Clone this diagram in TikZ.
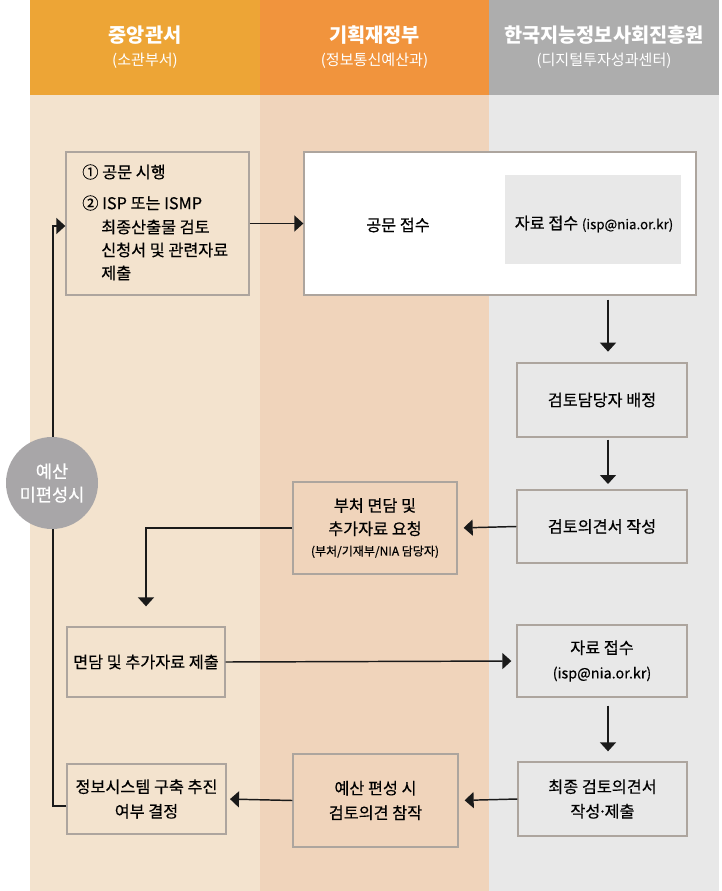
\documentclass[tikz,border=0pt]{standalone}
\usepackage{fontspec}
\setmainfont{Noto Sans CJK KR}
\newfontfamily\boxfont[FakeBold=0.4]{Noto Sans CJK KR}
\usetikzlibrary{arrows.meta}
\definecolor{hdA}{HTML}{EDA536}
\definecolor{hdB}{HTML}{F1943D}
\definecolor{hdC}{HTML}{ADADAD}
\definecolor{bgA}{HTML}{F3E3CE}
\definecolor{bgB}{HTML}{F0D4BB}
\definecolor{bgC}{HTML}{E8E8E8}
\definecolor{boxline}{HTML}{ADA59E}
\definecolor{circ}{HTML}{A8A6A8}
\definecolor{linec}{HTML}{1A1A1A}
\begin{document}
\begin{tikzpicture}[x=0.75pt,y=-0.75pt,
  box/.style={draw=boxline, line width=1pt, inner sep=0pt, align=center,
    font=\boxfont\fontsize{12.2}{18.5}\selectfont, text=black},
  txt/.style={inner sep=0pt, font=\boxfont\fontsize{12.2}{18}\selectfont, text=black},
  htitle/.style={inner sep=0pt, text=white, font=\fontsize{14.8}{17}\selectfont\bfseries},
  hsub/.style={inner sep=0pt, text=white, font=\fontsize{11.3}{13}\selectfont},
  arr/.style={draw=linec, line width=1.1pt, -{Triangle[length=6.75pt,width=12pt]}},
  plain/.style={draw=linec, line width=1.1pt}
]
\useasboundingbox (0,0) rectangle (721,891);
\fill[white] (0,0) rectangle (721,891);
% column backgrounds
\fill[bgA] (30,95) rectangle (260,891);
\fill[bgB] (260,95) rectangle (489,891);
\fill[bgC] (489,95) rectangle (719,891);
\fill[hdA] (30,0) rectangle (260,95);
\fill[hdB] (260,0) rectangle (489,95);
\fill[hdC] (489,0) rectangle (719,95);
% headers
\node[htitle] (h1) at (145,35) {중앙관서};
\node[hsub] (h1s) at (145,61) {(소관부서)};
\node[htitle] (h2) at (374.5,35) {기획재정부};
\node[hsub] (h2s) at (374.5,61) {(정보통신예산과)};
\node[htitle] (h3) at (604,35) {한국지능정보사회진흥원};
\node[hsub] (h3s) at (604,61) {(디지털투자성과센터)};

% coordinates for vertical arrows
\coordinate (vx) at (608,0);
\coordinate (fbBot) at (53,806);
\coordinate (fbTop) at (53,226);

% boxes
\node[box, fill=bgA, minimum width=137.25pt, minimum height=107.25pt] (A) at (157.5,223.5) {};
\node[txt, anchor=west] (a1) at (82,172) {① 공문 시행};
\node[txt, anchor=west] (a2) at (82,203) {② ISP 또는 ISMP};
\node[txt, anchor=west] (a3) at (101,227) {최종산출물 검토};
\node[txt, anchor=west] (a4) at (101,250) {신청서 및 관련자료};
\node[txt, anchor=west] (a5) at (101,273) {제출};

\node[box, fill=white, minimum width=294pt, minimum height=107.25pt] (W) at (500,223.5) {};
\node[txt] (w1) at (398,225) {공문 접수};
\node[fill=bgC, inner sep=0pt, minimum width=132pt, minimum height=66.75pt] (G) at (593,219.5) {};
\node[txt] (g1) at (594,224) {자료 접수 {\fontsize{10}{12}\selectfont(isp@nia.or.kr)}};

\node[box, fill=bgC, minimum width=127.5pt, minimum height=55.5pt] (R1) at (602,400) {검토담당자 배정};
\node[box, fill=bgC, minimum width=127.5pt, minimum height=54.75pt] (R2) at (602,526.5) {검토의견서 작성};
\node[box, fill=bgB, minimum width=123pt, minimum height=69pt] (M) at (375,528) {부처 면담 및\\[-1pt]추가자료 요청\\[-3pt]{\fontsize{9}{12}\selectfont(부처/기재부/NIA 담당자)}};
\node[box, fill=bgA, minimum width=118.5pt, minimum height=52.5pt] (L2) at (146,662) {면담 및 추가자료 제출};
\node[box, fill=bgC, minimum width=127.5pt, minimum height=54pt] (R3) at (602,661) {자료 접수\\{\fontsize{10.8}{12}\selectfont(isp@nia.or.kr)}};
\node[box, fill=bgC, minimum width=126.75pt, minimum height=55.5pt] (R4) at (602.5,799) {최종 검토의견서\\작성\kern-0.15em·\kern-0.15em제출};
\node[box, fill=bgB, minimum width=123.75pt, minimum height=69.75pt] (M2) at (375.5,800.5) {예산 편성 시\\검토의견 참작};
\node[box, fill=bgA, minimum width=119.25pt, minimum height=52.5pt] (L3) at (146.5,799) {정보시스템 구축 추진\\여부 결정};

% connectors
\draw[arr] (A.east) -- (W.west);
\draw[arr, shorten <=3pt, shorten >=8pt] (W.south -| vx) -- (R1.north -| vx);
\draw[arr, shorten <=1.5pt, shorten >=4pt] (R1.south -| vx) -- (R2.north -| vx);
\draw[arr, shorten >=4.5pt] (R2.west) -- (M.east);
\draw[arr, shorten >=15pt] (M.west) -| (L2.north);
\draw[arr, shorten >=3.75pt] (L2.east) -- (R3.west);
\draw[arr, shorten <=6pt, shorten >=7.5pt] (R3.south -| vx) -- (R4.north -| vx);
\draw[arr, shorten >=4.5pt] (R4.west) -- (M2.east);
\draw[arr, shorten >=2.5pt] (M2.west) -- (L3.east);
\draw[arr] (L3.west |- fbBot) -- (fbBot) -- (fbTop) -- (A.west |- fbTop);

% circle
\node[circle, fill=circ, minimum size=69pt, inner sep=0pt, text=white, align=center,
  font=\boxfont\fontsize{13.2}{17.5}\selectfont] (C) at (52,483) {예산\\미편성시};
\end{tikzpicture}
\end{document}
